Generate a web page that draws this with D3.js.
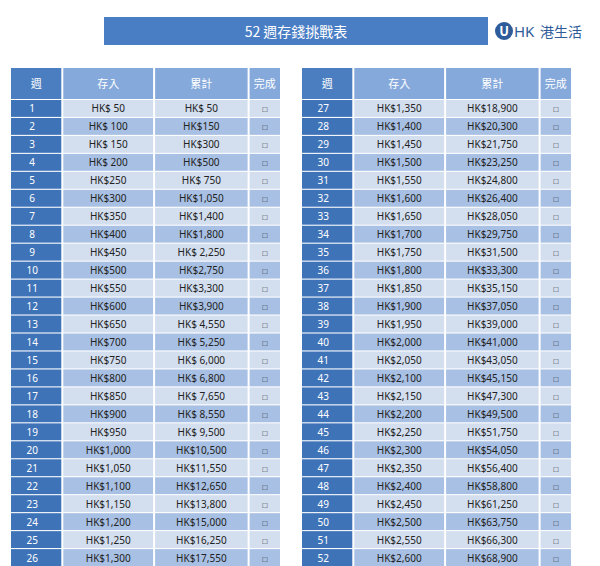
<!DOCTYPE html><html><head><meta charset="utf-8"><script src="https://cdn.jsdelivr.net/npm/d3@7"></script>
<style>body{margin:0;background:#fff}</style></head><body><svg id="c" width="600" height="566"></svg>
<script>
const title="52 週存錢挑戰表";
const headers=["週","存入","累計","完成"];
const weeks=d3.range(1,53);
const deposits=["HK$ 50","HK$ 100","HK$ 150","HK$ 200","HK$250","HK$300","HK$350","HK$400","HK$450","HK$500","HK$550","HK$600","HK$650","HK$700","HK$750","HK$800","HK$850","HK$900","HK$950","HK$1,000","HK$1,050","HK$1,100","HK$1,150","HK$1,200","HK$1,250","HK$1,300",
"HK$1,350","HK$1,400","HK$1,450","HK$1,500","HK$1,550","HK$1,600","HK$1,650","HK$1,700","HK$1,750","HK$1,800","HK$1,850","HK$1,900","HK$1,950","HK$2,000","HK$2,050","HK$2,100","HK$2,150","HK$2,200","HK$2,250","HK$2,300","HK$2,350","HK$2,400","HK$2,450","HK$2,500","HK$2,550","HK$2,600"];
const totals=["HK$ 50","HK$150","HK$300","HK$500","HK$ 750","HK$1,050","HK$1,400","HK$1,800","HK$ 2,250","HK$2,750","HK$3,300","HK$3,900","HK$ 4,550","HK$ 5,250","HK$ 6,000","HK$ 6,800","HK$ 7,650","HK$ 8,550","HK$ 9,500","HK$10,500","HK$11,550","HK$12,650","HK$13,800","HK$15,000","HK$16,250","HK$17,550",
"HK$18,900","HK$20,300","HK$21,750","HK$23,250","HK$24,800","HK$26,400","HK$28,050","HK$29,750","HK$31,500","HK$33,300","HK$35,150","HK$37,050","HK$39,000","HK$41,000","HK$43,050","HK$45,150","HK$47,300","HK$49,500","HK$51,750","HK$54,050","HK$56,400","HK$58,800","HK$61,250","HK$63,750","HK$66,300","HK$68,900"];
const svg=d3.select("#c");
const font="'Noto Sans CJK TC','Noto Sans',sans-serif";
svg.append("rect").attr("x",104).attr("y",17).attr("width",384).attr("height",28).attr("fill","#4a7ec4");
svg.append("text").attr("x",296).attr("y",36.5).attr("text-anchor","middle").attr("fill","#fff").attr("font-size",14).attr("font-family",font).text(title);
// logo
svg.append("circle").attr("cx",504).attr("cy",31).attr("r",9).attr("fill","#2e5c9a");
svg.append("text").attr("x",504).attr("y",36).attr("text-anchor","middle").attr("fill","#fff").attr("font-size",13).attr("font-weight","bold").attr("font-family",font).text("U");
svg.append("text").attr("x",514).attr("y",37).attr("fill","#2e5c9a").attr("font-size",15).attr("font-family","Noto Sans").text("HK");
svg.append("text").attr("x",540).attr("y",37).attr("fill","#2e5c9a").attr("font-size",14).attr("font-family","'Noto Sans CJK TC',serif").text("港生活");
const y=d3.scaleBand().domain(d3.range(26)).range([100,566]).paddingInner(0.06);
const tables=[{x0:11,x1:281,start:0},{x0:302,x1:572,start:26}];
const colW=[0.19,0.34,0.35,0.12];
tables.forEach(t=>{
  const edges=[0];let acc=0;colW.forEach(w=>{acc+=w;edges.push(acc);});
  const x=d3.scaleLinear().domain([0,1]).range([t.x0,t.x1]);
  const g=svg.append("g");
  headers.forEach((h,i)=>{
    const xa=x(edges[i])+(i?1:0), xb=x(edges[i+1])-1;
    g.append("rect").attr("x",xa).attr("y",68).attr("width",xb-xa).attr("height",31).attr("fill",i==0?"#4a7ec0":"#86a9db");
    g.append("text").attr("x",(xa+xb)/2).attr("y",88).attr("text-anchor","middle").attr("fill","#fff").attr("font-size",11).attr("font-family",font).text(h);
  });
  d3.range(26).forEach(r=>{
    const k=t.start+r, even=r%2==1;
    const vals=[String(weeks[k]),deposits[k],totals[k],"□"];
    vals.forEach((v,i)=>{
      const xa=x(edges[i])+(i?1:0), xb=x(edges[i+1])-1;
      const fill=i==0?"#3f73b8":(even?"#a8c0e4":"#d3deef");
      g.append("rect").attr("x",xa).attr("y",y(r)).attr("width",xb-xa).attr("height",y.bandwidth()).attr("fill",fill);
      g.append("text").attr("x",i==0?(xa+xb)/2-4:(xa+xb)/2).attr("y",y(r)+y.bandwidth()/2+4).attr("text-anchor","middle")
        .attr("fill",i==0?"#fff":"#222").attr("font-size",i==3?8:10).attr("font-family","'Noto Sans',sans-serif").text(v);
    });
  });
});
</script></body></html>
